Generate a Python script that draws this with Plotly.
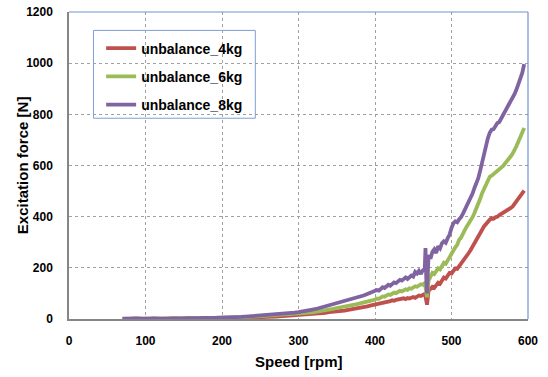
import plotly.graph_objects as go

speed = (list(range(70, 400, 5))
         + [400 + 2.5 * k for k in range(27)]
         + [466, 467, 468]
         + [470 + 2.5 * k for k in range(51)])

unbalance_4kg = [
    0, 1, 0, 0, 1, 0, 1, 0, 1, 1, 0, 1,
    1, 1, 2, 1, 1, 2, 2, 1, 2, 2, 3, 2, 3, 3,
    3, 3, 4, 4, 5, 4, 5, 6, 6, 7,
    7, 8, 8, 9, 9, 10, 11, 11, 12, 13,
    14, 15, 16, 18, 19, 21, 23, 24, 27, 28,
    30, 32, 33, 36, 38, 41, 43, 46, 49, 53,
    56, 59, 58, 63, 62, 65, 67, 66, 70, 73, 71, 75, 77, 76, 79, 81, 78, 82,
    80, 84, 86, 83, 89, 92, 90, 95, 98,
    88, 70, 56,
    110, 120, 126, 122, 134, 142, 138, 150, 162, 158,
    170, 180, 178, 190, 198, 196, 206, 212, 224, 234,
    245, 258, 270, 282, 298, 310, 322, 336, 349, 362,
    372, 384, 388, 394, 392, 398, 400, 406, 410, 414,
    420, 424, 430, 434, 440, 450, 460, 470, 478, 490,
    502,
]

unbalance_6kg = [
    0, 1, 0, 1, 1, 0, 1, 1, 1, 0, 1, 1,
    1, 2, 1, 2, 2, 2, 3, 2, 3, 3, 3, 4, 4, 4,
    4, 5, 5, 6, 6, 7, 7, 8, 9, 9,
    10, 10, 11, 12, 13, 14, 15, 16, 17, 18,
    19, 21, 23, 25, 27, 29, 32, 34, 37, 40,
    43, 45, 48, 51, 54, 57, 60, 64, 68, 72,
    76, 80, 79, 85, 88, 87, 92, 96, 94, 99, 103, 101, 106, 110, 108, 113, 116, 114,
    120, 118, 124, 128, 126, 132, 136, 134, 140,
    125, 108, 85,
    150, 168, 180, 176, 190, 198, 194, 208, 220, 216,
    230, 246, 259, 272, 280, 290, 310, 318, 330, 348,
    362, 372, 386, 398, 414, 430, 446, 470, 492, 510,
    524, 542, 556, 560, 566, 572, 576, 586, 592, 598,
    608, 616, 626, 636, 647, 660, 676, 694, 712, 730,
    747,
]

unbalance_8kg = [
    1, 0, 1, 2, 1, 1, 0, 1, 2, 1, 1, 0,
    1, 2, 1, 2, 2, 3, 2, 3, 3, 4, 3, 4, 4, 5,
    5, 6, 6, 7, 8, 8, 9, 10, 11, 12,
    13, 14, 15, 16, 17, 18, 20, 21, 23, 25,
    27, 29, 32, 35, 38, 41, 45, 49, 53, 58,
    63, 66, 70, 74, 78, 82, 87, 92, 98, 103,
    108, 113, 111, 119, 124, 121, 128, 134, 130, 138, 143, 140, 148, 153, 150, 158, 162, 156,
    165, 170, 166, 184, 178, 188, 176, 190, 196,
    277, 160, 100,
    250, 236, 262, 272, 258, 284, 276, 296, 304, 298,
    316, 330, 356, 374, 382, 378, 390, 398, 412, 428,
    438, 452, 470, 490, 512, 528, 550, 580, 616, 646,
    672, 706, 728, 740, 742, 756, 766, 770, 784, 796,
    808, 820, 832, 848, 866, 880, 898, 918, 936, 962,
    996,
]

series_names = ["unbalance_4kg", "unbalance_6kg", "unbalance_8kg"]
series_values = [unbalance_4kg, unbalance_6kg, unbalance_8kg]
colors = ["#c0504d", "#9bbb59", "#8064a2"]

x_ticks = [0, 100, 200, 300, 400, 500, 600]
y_ticks = [0, 200, 400, 600, 800, 1000, 1200]

fig = go.Figure()
for i, (name, vals, col) in enumerate(zip(series_names, series_values, colors)):
    fig.add_trace(go.Scatter(
        x=speed, y=vals, mode="lines", name=f"<b>{name}</b>",
        line=dict(color=col, width=3.8),
        legendgroup=f"g{i}",
    ))

font_family = "Liberation Sans, Arial, sans-serif"

fig.update_layout(
    width=548, height=377,
    margin=dict(l=68.5, r=20, t=11.5, b=57.5),
    paper_bgcolor="white", plot_bgcolor="white",
    font=dict(family=font_family, size=11, color="black"),
    showlegend=True,
    legend=dict(
        x=0.07, y=0.933, xanchor="left", yanchor="top",
        bgcolor="rgba(0,0,0,0)", borderwidth=0,
        font=dict(family=font_family, size=14, color="black"),
        tracegroupgap=7, itemwidth=30,
    ),
    xaxis=dict(
        range=[0, 600], tickvals=x_ticks, ticktext=[f"<b>{t}</b>" for t in x_ticks],
        showgrid=True, gridcolor="#a0a0a0", griddash="dot", gridwidth=1,
        showline=True, linecolor="#868686", linewidth=1.5,
        zeroline=False, ticks="", ticklabelstandoff=10,
        tickfont=dict(size=12), automargin=False,
    ),
    yaxis=dict(
        range=[0, 1200], tickvals=y_ticks, ticktext=[f"<b>{t}</b>" for t in y_ticks],
        showgrid=True, gridcolor="#a0a0a0", griddash="dot", gridwidth=1,
        showline=True, linecolor="#868686", linewidth=1.5,
        zeroline=False, ticks="", ticklabelstandoff=12,
        tickfont=dict(size=12), automargin=False,
    ),
    shapes=[
        dict(type="line", xref="paper", yref="paper", x0=0, x1=1, y0=1, y1=1,
             line=dict(color="#6f93cf", width=1.2)),
        dict(type="line", xref="paper", yref="paper", x0=1, x1=1, y0=0, y1=1,
             line=dict(color="#6f93cf", width=1.2)),
        dict(type="rect", xref="paper", yref="paper", x0=0.0533, x1=0.4059, y0=0.654, y1=0.940,
             line=dict(color="#7f9fd3", width=1), fillcolor="white", layer="below"),
    ],
    annotations=[
        dict(text="<b>Excitation force [N]</b>", xref="paper", yref="paper",
             x=-0.101, y=0.5, xanchor="center", yanchor="middle", textangle=-90,
             showarrow=False, font=dict(size=15)),
        dict(text="<b>Speed [rpm]</b>", xref="paper", yref="paper",
             x=0.5, y=-0.138, xanchor="center", yanchor="middle",
             showarrow=False, font=dict(size=15)),
    ],
)

fig.write_html(
    "out.html",
    config={"displayModeBar": False},
    post_script="document.body.style.margin='0';document.body.style.overflow='hidden';",
)
